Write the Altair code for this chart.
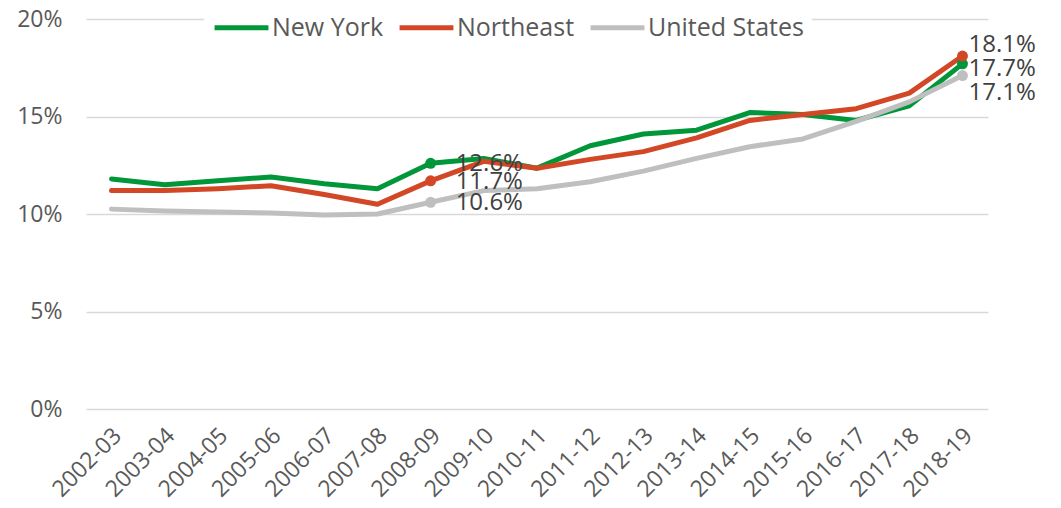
import altair as alt
import pandas as pd

periods = ["2002-03", "2003-04", "2004-05", "2005-06", "2006-07", "2007-08", "2008-09",
           "2009-10", "2010-11", "2011-12", "2012-13", "2013-14", "2014-15", "2015-16",
           "2016-17", "2017-18", "2018-19"]
series = ["New York", "Northeast", "United States"]
colors = ["#009639", "#D24726", "#BFBFBF"]

new_york = [11.8, 11.5, 11.7, 11.9, 11.55, 11.3, 12.6, 12.85, 12.35, 13.5, 14.1, 14.3,
            15.2, 15.1, 14.8, 15.55, 17.7]
northeast = [11.2, 11.2, 11.3, 11.45, 11.0, 10.5, 11.7, 12.7, 12.35, 12.8, 13.2, 13.9,
             14.8, 15.1, 15.4, 16.2, 18.1]
united_states = [10.25, 10.15, 10.1, 10.05, 9.95, 10.0, 10.6, 11.2, 11.3, 11.65, 12.2,
                 12.85, 13.45, 13.85, 14.75, 15.75, 17.1]

rows = []
for name, vals in zip(series, [new_york, northeast, united_states]):
    for p, v in zip(periods, vals):
        rows.append({"period": p, "series": name, "value": v})
df = pd.DataFrame(rows)

x_enc = alt.X("period:N", sort=periods, title=None,
              scale=alt.Scale(type="point", padding=0.48),
              axis=alt.Axis(labelAngle=-45, labelFontSize=23, labelColor="#595959",
                            labelFont="Open Sans", domain=False, ticks=False,
                            labelPadding=15, labelOffset=-2, grid=False))
y_enc = alt.Y("value:Q", title=None,
              scale=alt.Scale(domain=[0, 20]),
              axis=alt.Axis(values=[0, 5, 10, 15, 20], labelExpr="datum.value + '%'",
                            labelFontSize=23, labelColor="#595959", labelFont="Open Sans",
                            domain=False, ticks=False, labelPadding=24,
                            gridColor="#D9D9D9", gridWidth=1.5))
color_enc = alt.Color("series:N", scale=alt.Scale(domain=series, range=colors),
                      legend=alt.Legend(title=None, orient="none", direction="horizontal",
                                        legendX=118, legendY=-29, symbolType="stroke",
                                        symbolSize=2900, symbolStrokeWidth=5,
                                        labelFontSize=25, labelFont="Open Sans",
                                        labelColor="#595959", labelOffset=1,
                                        columnPadding=5, padding=8, fillColor="white"))

base = alt.Chart(df)
lines = base.mark_line(strokeWidth=5, strokeCap="round", strokeJoin="round").encode(
    x=x_enc, y=y_enc, color=color_enc)

pts_df = df[df["period"].isin(["2008-09", "2018-19"])]
points = alt.Chart(pts_df).mark_point(filled=True, size=120, opacity=1).encode(
    x=alt.X("period:N", sort=periods), y="value:Q",
    color=alt.Color("series:N", scale=alt.Scale(domain=series, range=colors), legend=None))

label_specs = [
    ("2008-09", "New York", 25, 1),
    ("2008-09", "Northeast", 25, 1),
    ("2008-09", "United States", 25, 1),
    ("2018-19", "Northeast", 6, -11),
    ("2018-19", "New York", 6, 5),
    ("2018-19", "United States", 6, 17),
]
label_layers = []
for per, ser, dx, dy in label_specs:
    sub = df[(df["period"] == per) & (df["series"] == ser)]
    label_layers.append(
        alt.Chart(sub).transform_calculate(
            lbl="format(datum.value, '.1f') + '%'"
        ).mark_text(align="left", baseline="middle", dx=dx, dy=dy,
                    fontSize=24, font="Open Sans", color="#404040").encode(
            x=alt.X("period:N", sort=periods), y="value:Q", text="lbl:N"))

chart = alt.layer(lines, points, *label_layers).properties(
    width=902, height=390,
    autosize=alt.AutoSizeParams(type="none"),
    padding={"left": 78, "top": 11, "right": 60, "bottom": 97},
).configure(font="Open Sans").configure_view(stroke=None)

chart.save("out.html", embed_options={"renderer": "svg", "actions": False})
